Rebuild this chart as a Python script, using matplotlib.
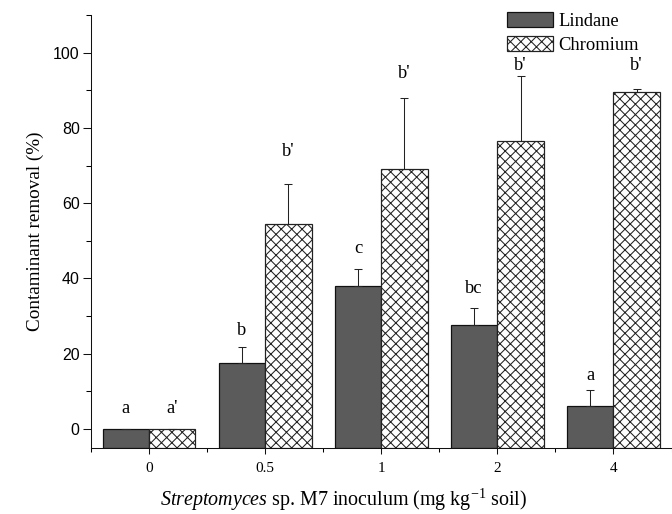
import matplotlib
matplotlib.use("Agg")
import matplotlib.pyplot as plt
import numpy as np
from matplotlib.ticker import FixedLocator

categories = ["0", "0.5", "1", "2", "4"]
lindane = [0.0, 17.6, 38.1, 27.7, 6.1]
lindane_err = [0.0, 4.1, 4.3, 4.3, 4.3]
chromium = [0.0, 54.5, 69.1, 76.4, 89.5]
chromium_err = [0.0, 10.7, 18.9, 17.4, 0.8]
lindane_letters = ["a", "b", "c", "bc", "a"]
lindane_letter_y = [5.3, 26.1, 48.0, 37.2, 14.2]
chromium_letters = ["a'", "b'", "b'", "b'", "b'"]
chromium_letter_y = [5.3, 73.6, 94.4, 96.6, 96.6]

serif = "Liberation Serif"
sans = "Liberation Sans"

DPI = 125
plt.rcParams['hatch.linewidth'] = 0.6
plt.rcParams['hatch.color'] = '#1e1e1e'
plt.rcParams['mathtext.fontset'] = 'custom'
plt.rcParams['mathtext.rm'] = serif
plt.rcParams['mathtext.it'] = serif + ":italic"

fig = plt.figure(figsize=(672 / DPI, 514 / DPI), dpi=DPI)
ax = fig.add_axes([91 / 672, 66.3 / 514, 580.5 / 672, 432.7 / 514])

YMIN, YMAX = -5, 110
x = np.arange(len(categories))
w = 0.4
ax.bar(x - w / 2, np.array(lindane) - YMIN, w, bottom=YMIN, color="#5b5b5b", edgecolor="#111111",
       linewidth=0.7, label="Lindane", zorder=2)
ax.bar(x + w / 2, np.array(chromium) - YMIN, w, bottom=YMIN, color="white", edgecolor="#222222",
       hatch="xxxx", linewidth=0.7, label="Chromium", zorder=2)

ekw = dict(fmt="none", ecolor="#222222", elinewidth=0.6, capsize=2.2, capthick=0.6, zorder=3)
ax.errorbar(x - w / 2, lindane, yerr=[np.zeros(len(x)), lindane_err], **ekw)
ax.errorbar(x + w / 2, chromium, yerr=[np.zeros(len(x)), chromium_err], **ekw)

for i in range(len(x)):
    ax.text(x[i] - w / 2, lindane_letter_y[i], lindane_letters[i], ha="center", va="center",
            fontsize=10.7, family=serif)
    ax.text(x[i] + w / 2, chromium_letter_y[i], chromium_letters[i], ha="center", va="center",
            fontsize=10.7, family=serif)

ax.set_xlim(-0.5, 4.5)
ax.set_ylim(YMIN, YMAX)
ax.set_xticks(x)
ax.set_xticklabels(categories, family=serif, fontsize=8.8)
ax.xaxis.set_minor_locator(FixedLocator(np.arange(-0.5, 4.6, 1.0)))
ax.set_yticks(np.arange(0, 101, 20))
ax.set_yticklabels([str(v) for v in range(0, 101, 20)], family=sans, fontsize=9.2)
ax.yaxis.set_minor_locator(FixedLocator(np.arange(10, 111, 20)))

for s in ["top", "right"]:
    ax.spines[s].set_visible(False)
for s in ["left", "bottom"]:
    ax.spines[s].set_linewidth(0.6)
    ax.spines[s].set_color("#111111")
ax.tick_params(axis="both", which="major", direction="out", width=0.6, color="#111111")
ax.tick_params(axis="y", which="major", length=4.5, pad=2)
ax.tick_params(axis="y", which="minor", length=2.8, width=0.6)
ax.tick_params(axis="x", which="major", length=3.5, pad=5)
ax.tick_params(axis="x", which="minor", length=2.5, width=0.6)

ax.set_ylabel("Contaminant removal (%)", family=serif, fontsize=11, labelpad=5.5)
ax.set_xlabel(r"$\mathit{Streptomyces}$ sp. M7 inoculum (mg kg$^{\mathregular{-1}}$ soil)",
              family=serif, fontsize=11.5)
ax.xaxis.set_label_coords((344 - 91) / 580.5, -(500 - 447.7) / 432.7)
ax.xaxis.label.set_va("center")

leg = ax.legend(loc="upper left", bbox_to_anchor=((506.7 - 91) / 580.5, 1.0 + 3 / 432.7), frameon=False,
                prop={"family": serif, "size": 10.7}, handlelength=2.5, handleheight=0.86,
                handletextpad=0.3, labelspacing=0.35, borderaxespad=0, borderpad=0)

fig.savefig("out.png", dpi=DPI)
